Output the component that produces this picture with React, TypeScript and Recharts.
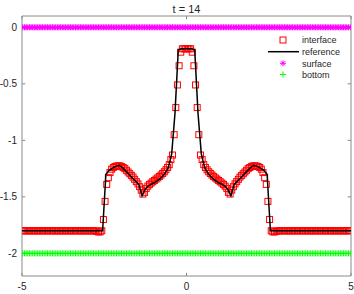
import React from 'react';
import {
  ComposedChart,
  Scatter,
  Line,
  XAxis,
  YAxis,
  ReferenceLine,
} from 'recharts';

const MESH_X0 = -4.975;
const MESH_DX = 0.05;

// interface elevation at each cell centre
const INTERFACE_Y = [
  -1.8, -1.8, -1.8, -1.8, -1.8, -1.8, -1.8, -1.8, -1.8, -1.8,
  -1.8, -1.8, -1.8, -1.8, -1.8, -1.8, -1.8, -1.8, -1.8, -1.8,
  -1.8, -1.8, -1.8, -1.8, -1.8, -1.8, -1.8, -1.8, -1.8, -1.8,
  -1.8, -1.8, -1.8, -1.8, -1.8, -1.8, -1.8, -1.8, -1.8, -1.8,
  -1.8, -1.8, -1.8, -1.8, -1.8, -1.805, -1.81, -1.81, -1.8, -1.7,
  -1.54, -1.39, -1.33, -1.285, -1.255, -1.24, -1.232, -1.228, -1.225, -1.226,
  -1.232, -1.24, -1.25, -1.265, -1.28, -1.295, -1.31, -1.325, -1.345, -1.365,
  -1.385, -1.41, -1.44, -1.475, -1.46, -1.425, -1.405, -1.39, -1.378, -1.366,
  -1.355, -1.343, -1.332, -1.32, -1.307, -1.293, -1.278, -1.26, -1.24, -1.215,
  -1.17, -1.13, -0.95, -0.71, -0.51, -0.34, -0.22, -0.19, -0.19, -0.19,
  -0.19, -0.19, -0.19, -0.22, -0.34, -0.51, -0.71, -0.95, -1.13, -1.17,
  -1.215, -1.24, -1.26, -1.278, -1.293, -1.307, -1.32, -1.332, -1.343, -1.355,
  -1.366, -1.378, -1.39, -1.405, -1.425, -1.46, -1.475, -1.44, -1.41, -1.385,
  -1.365, -1.345, -1.325, -1.31, -1.295, -1.28, -1.265, -1.25, -1.24, -1.232,
  -1.226, -1.225, -1.228, -1.232, -1.24, -1.255, -1.285, -1.33, -1.39, -1.54,
  -1.7, -1.8, -1.81, -1.81, -1.805, -1.8, -1.8, -1.8, -1.8, -1.8,
  -1.8, -1.8, -1.8, -1.8, -1.8, -1.8, -1.8, -1.8, -1.8, -1.8,
  -1.8, -1.8, -1.8, -1.8, -1.8, -1.8, -1.8, -1.8, -1.8, -1.8,
  -1.8, -1.8, -1.8, -1.8, -1.8, -1.8, -1.8, -1.8, -1.8, -1.8,
  -1.8, -1.8, -1.8, -1.8, -1.8, -1.8, -1.8, -1.8, -1.8, -1.8,
];

// free surface and bottom are flat
const SURFACE_Y = [
  0, 0, 0, 0, 0, 0, 0, 0, 0, 0, 0, 0, 0, 0, 0, 0, 0, 0, 0, 0,
  0, 0, 0, 0, 0, 0, 0, 0, 0, 0, 0, 0, 0, 0, 0, 0, 0, 0, 0, 0,
  0, 0, 0, 0, 0, 0, 0, 0, 0, 0, 0, 0, 0, 0, 0, 0, 0, 0, 0, 0,
  0, 0, 0, 0, 0, 0, 0, 0, 0, 0, 0, 0, 0, 0, 0, 0, 0, 0, 0, 0,
  0, 0, 0, 0, 0, 0, 0, 0, 0, 0, 0, 0, 0, 0, 0, 0, 0, 0, 0, 0,
  0, 0, 0, 0, 0, 0, 0, 0, 0, 0, 0, 0, 0, 0, 0, 0, 0, 0, 0, 0,
  0, 0, 0, 0, 0, 0, 0, 0, 0, 0, 0, 0, 0, 0, 0, 0, 0, 0, 0, 0,
  0, 0, 0, 0, 0, 0, 0, 0, 0, 0, 0, 0, 0, 0, 0, 0, 0, 0, 0, 0,
  0, 0, 0, 0, 0, 0, 0, 0, 0, 0, 0, 0, 0, 0, 0, 0, 0, 0, 0, 0,
  0, 0, 0, 0, 0, 0, 0, 0, 0, 0, 0, 0, 0, 0, 0, 0, 0, 0, 0, 0,
];

const BOTTOM_Y = [
  -2, -2, -2, -2, -2, -2, -2, -2, -2, -2, -2, -2, -2, -2, -2, -2, -2, -2, -2, -2,
  -2, -2, -2, -2, -2, -2, -2, -2, -2, -2, -2, -2, -2, -2, -2, -2, -2, -2, -2, -2,
  -2, -2, -2, -2, -2, -2, -2, -2, -2, -2, -2, -2, -2, -2, -2, -2, -2, -2, -2, -2,
  -2, -2, -2, -2, -2, -2, -2, -2, -2, -2, -2, -2, -2, -2, -2, -2, -2, -2, -2, -2,
  -2, -2, -2, -2, -2, -2, -2, -2, -2, -2, -2, -2, -2, -2, -2, -2, -2, -2, -2, -2,
  -2, -2, -2, -2, -2, -2, -2, -2, -2, -2, -2, -2, -2, -2, -2, -2, -2, -2, -2, -2,
  -2, -2, -2, -2, -2, -2, -2, -2, -2, -2, -2, -2, -2, -2, -2, -2, -2, -2, -2, -2,
  -2, -2, -2, -2, -2, -2, -2, -2, -2, -2, -2, -2, -2, -2, -2, -2, -2, -2, -2, -2,
  -2, -2, -2, -2, -2, -2, -2, -2, -2, -2, -2, -2, -2, -2, -2, -2, -2, -2, -2, -2,
  -2, -2, -2, -2, -2, -2, -2, -2, -2, -2, -2, -2, -2, -2, -2, -2, -2, -2, -2, -2,
];

// reference solution (coarser)
const REFERENCE_X = [
  -5, -2.65, -2.55, -2.45, -2.35, -2.25, -2.15, -2.05, -1.95, -1.85,
  -1.75, -1.65, -1.55, -1.45, -1.35, -1.25, -1.15, -1.05, -0.95, -0.85,
  -0.75, -0.65, -0.55, -0.45, -0.35, -0.25, -0.15, -0.05,
  0.05, 0.15, 0.25, 0.35, 0.45, 0.55, 0.65, 0.75, 0.85, 0.95,
  1.05, 1.15, 1.25, 1.35, 1.45, 1.55, 1.65, 1.75, 1.85, 1.95,
  2.05, 2.15, 2.25, 2.35, 2.45, 2.55, 2.65, 5,
];
const REFERENCE_Y = [
  -1.8, -1.8, -1.8, -1.3, -1.265, -1.245, -1.23, -1.22, -1.24, -1.27,
  -1.3, -1.33, -1.36, -1.39, -1.49, -1.43, -1.4, -1.385, -1.37, -1.35,
  -1.325, -1.29, -1.24, -1.12, -0.76, -0.2, -0.19, -0.19,
  -0.19, -0.19, -0.2, -0.76, -1.12, -1.24, -1.29, -1.325, -1.35, -1.37,
  -1.385, -1.4, -1.43, -1.49, -1.39, -1.36, -1.33, -1.3, -1.27, -1.24,
  -1.22, -1.23, -1.245, -1.265, -1.3, -1.8, -1.8, -1.8,
];

const X_TICKS = [-5, 0, 5];
const Y_TICKS = [-2, -1.5, -1, -0.5, 0];
const X_DOMAIN = [-5, 5];
const Y_DOMAIN = [-2.2, 0.1];
const TITLE = 't = 14';
const LEGEND_LABELS = ['interface', 'reference', 'surface', 'bottom'];

const FONT = '"Liberation Sans", Arial, sans-serif';
const AXIS_COLOR = '#8a8a8a';
const TEXT_COLOR = '#262626';

const meshX = INTERFACE_Y.map((_, i) => +(MESH_X0 + i * MESH_DX).toFixed(3));
const interfaceData = meshX.map((x, i) => ({ x, y: INTERFACE_Y[i] }));
const surfaceData = meshX.map((x, i) => ({ x, y: SURFACE_Y[i] }));
const bottomData = meshX.map((x, i) => ({ x, y: BOTTOM_Y[i] }));
const referenceData = REFERENCE_X.map((x, i) => ({ x, y: REFERENCE_Y[i] }));

function SquareMarker({ cx, cy }: { cx?: number; cy?: number }) {
  if (cx === undefined || cy === undefined) return null;
  return <rect x={cx - 3} y={cy - 3} width={6} height={6} fill="none" stroke="#ff0000" strokeWidth={1} />;
}

function AsteriskMarker({ cx, cy }: { cx?: number; cy?: number }) {
  if (cx === undefined || cy === undefined) return null;
  const r = 3;
  const d = 2.1;
  return (
    <g stroke="#ff00ff" strokeWidth={1}>
      <line x1={cx - r} y1={cy} x2={cx + r} y2={cy} />
      <line x1={cx} y1={cy - r} x2={cx} y2={cy + r} />
      <line x1={cx - d} y1={cy - d} x2={cx + d} y2={cy + d} />
      <line x1={cx - d} y1={cy + d} x2={cx + d} y2={cy - d} />
    </g>
  );
}

function PlusMarker({ cx, cy }: { cx?: number; cy?: number }) {
  if (cx === undefined || cy === undefined) return null;
  const r = 3;
  return (
    <g stroke="#00ff00" strokeWidth={1}>
      <line x1={cx - r} y1={cy} x2={cx + r} y2={cy} />
      <line x1={cx} y1={cy - r} x2={cx} y2={cy + r} />
    </g>
  );
}

// small inward tick marks, MATLAB style, on all four sides
const X_TICK_LEN = 0.028; // data units in y
const Y_TICK_LEN = 0.1; // data units in x

export default function App() {
  return (
    <div style={{ position: 'fixed', left: 0, top: 0, width: 354, height: 294, background: '#fff' }}>
      <ComposedChart
        width={354}
        height={294}
        margin={{ top: 16, right: 3, bottom: 0, left: 0 }}
        style={{ fontFamily: FONT }}
      >
        <XAxis
          type="number"
          dataKey="x"
          domain={X_DOMAIN}
          ticks={X_TICKS}
          allowDataOverflow
          height={18}
          tickLine={false}
          tickSize={0}
          tickMargin={7}
          axisLine={{ stroke: AXIS_COLOR }}
          tick={{ fill: TEXT_COLOR, fontSize: 10, fontFamily: FONT }}
        />
        <YAxis
          type="number"
          domain={Y_DOMAIN}
          ticks={Y_TICKS}
          allowDataOverflow
          width={22}
          tickLine={false}
          tickSize={0}
          tickMargin={5}
          axisLine={{ stroke: AXIS_COLOR }}
          tick={{ fill: TEXT_COLOR, fontSize: 10, fontFamily: FONT }}
        />
        <ReferenceLine y={Y_DOMAIN[1]} stroke={AXIS_COLOR} />
        <ReferenceLine x={X_DOMAIN[1]} stroke={AXIS_COLOR} />
        {X_TICKS.map((t) => (
          <ReferenceLine
            key={`xb${t}`}
            segment={[{ x: t, y: Y_DOMAIN[0] }, { x: t, y: Y_DOMAIN[0] + X_TICK_LEN }]}
            stroke={AXIS_COLOR}
          />
        ))}
        {X_TICKS.map((t) => (
          <ReferenceLine
            key={`xt${t}`}
            segment={[{ x: t, y: Y_DOMAIN[1] }, { x: t, y: Y_DOMAIN[1] - X_TICK_LEN }]}
            stroke={AXIS_COLOR}
          />
        ))}
        {Y_TICKS.map((t) => (
          <ReferenceLine
            key={`yl${t}`}
            segment={[{ x: X_DOMAIN[0], y: t }, { x: X_DOMAIN[0] + Y_TICK_LEN, y: t }]}
            stroke={AXIS_COLOR}
          />
        ))}
        {Y_TICKS.map((t) => (
          <ReferenceLine
            key={`yr${t}`}
            segment={[{ x: X_DOMAIN[1], y: t }, { x: X_DOMAIN[1] - Y_TICK_LEN, y: t }]}
            stroke={AXIS_COLOR}
          />
        ))}
        <Scatter
          name="interface"
          data={interfaceData}
          dataKey="y"
          shape={(p: any) => <SquareMarker cx={p.cx} cy={p.cy} />}
          isAnimationActive={false}
        />
        <Line
          name="reference"
          data={referenceData}
          dataKey="y"
          type="linear"
          stroke="#000000"
          strokeWidth={1.5}
          dot={false}
          activeDot={false}
          isAnimationActive={false}
          zIndex={700}
        />
        <Scatter
          name="surface"
          data={surfaceData}
          dataKey="y"
          shape={(p: any) => <AsteriskMarker cx={p.cx} cy={p.cy} />}
          isAnimationActive={false}
          zIndex={800}
        />
        <Scatter
          name="bottom"
          data={bottomData}
          dataKey="y"
          shape={(p: any) => <PlusMarker cx={p.cx} cy={p.cy} />}
          isAnimationActive={false}
          zIndex={800}
        />
      </ComposedChart>

      {/* title and legend */}
      <svg
        width={354}
        height={294}
        style={{ position: 'absolute', left: 0, top: 0, pointerEvents: 'none', fontFamily: FONT }}
      >
        <text x={186.5} y={12.5} textAnchor="middle" fontSize={11} fill={TEXT_COLOR}>
          {TITLE}
        </text>
        <rect x={280} y={37} width={6} height={6} fill="none" stroke="#ff0000" strokeWidth={1} />
        <line x1={268} y1={51.7} x2={299} y2={51.7} stroke="#000" strokeWidth={1.5} />
        <AsteriskMarker cx={283} cy={63.3} />
        <PlusMarker cx={283} cy={74.5} />
        {LEGEND_LABELS.map((label, i) => (
          <text key={label} x={302} y={[40, 51.7, 63.3, 74.5][i] + 3.2} fontSize={9} fill={TEXT_COLOR}>
            {label}
          </text>
        ))}
      </svg>
    </div>
  );
}
